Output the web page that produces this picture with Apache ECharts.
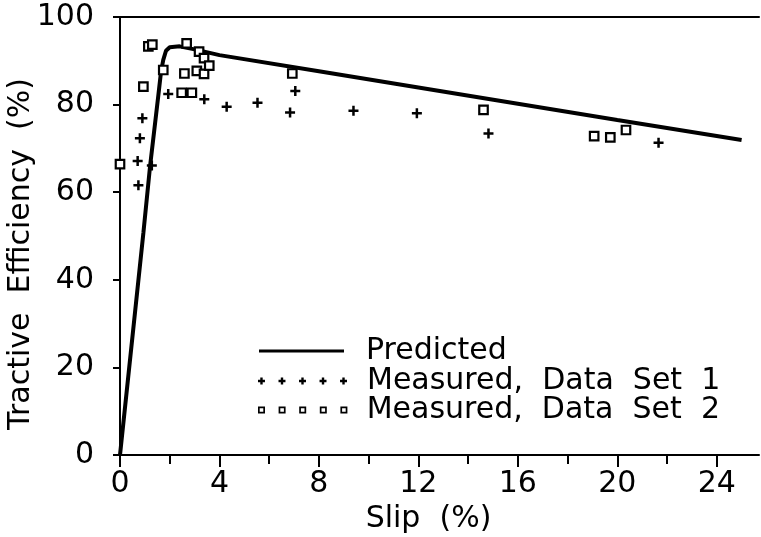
<!DOCTYPE html>
<html><head><meta charset="utf-8">
<script src="https://cdn.jsdelivr.net/npm/echarts@6/dist/echarts.min.js"></script>
<style>html,body{margin:0;padding:0;background:#fff}#c{width:761px;height:537px}</style>
</head><body><div id="c"></div>
<script>
// ---- data ----
const predictedSlip = [0, 0.94, 1.21, 1.54, 1.65, 1.74, 1.85, 2.0, 2.4, 3.0, 4.0, 8, 12, 16, 20, 25];
const predictedEff  = [0, 50.7, 66.0, 82.0, 87.5, 90.2, 92.3, 93.1, 93.3, 92.6, 91.3, 87.6, 83.9, 80.2, 76.5, 71.9];

const set1Slip = [0.74, 0.71, 0.80, 0.90, 1.28, 1.94, 3.39, 4.29, 5.53, 6.84, 7.05, 9.39, 11.94, 14.82, 21.66];
const set1Eff  = [61.6, 67.1, 72.3, 76.9, 66.1, 82.4, 81.2, 79.5, 80.4, 78.2, 83.1, 78.6, 78.0, 73.4, 71.3];

const set2Slip = [0, 0.94, 1.14, 1.30, 1.74, 2.48, 2.59, 2.68, 2.89, 3.09, 3.18, 3.38, 3.38, 3.59, 6.93, 14.62, 19.07, 19.72, 20.35];
const set2Eff  = [66.4, 84.1, 93.3, 93.7, 87.9, 82.7, 87.1, 94.0, 82.7, 87.7, 92.1, 87.0, 90.6, 88.9, 87.1, 78.8, 72.8, 72.5, 74.2];

const xTickLabels = [0, 4, 8, 12, 16, 20, 24];
const xMinorTicks = [2, 6, 10, 14, 18, 22];
const yTickLabels = [0, 20, 40, 60, 80, 100];

const seriesNames = ['Predicted', 'Measured,  Data  Set  1', 'Measured,  Data  Set  2'];

// ---- helpers ----
const zip = (a, b) => a.map((v, i) => [v, b[i]]);
const FONT = 'DejaVu Sans';
const X_MAX = 25.7;

function plusRowPath() {
  let p = 'path://';
  for (let i = 0; i < 5; i++) {
    const c = 3.5 + i * 20.6;
    p += `M${c-1.2},0H${c+1.2}V2.3H${c+3.5}V4.7H${c+1.2}V7H${c-1.2}V4.7H${c-3.5}V2.3H${c-1.2}Z`;
  }
  return p;
}
function squareRowPath() {
  let p = 'path://';
  for (let i = 0; i < 5; i++) {
    const c = 3.5 + i * 20.6;
    p += `M${c-3.5},0H${c+3.5}V7H${c-3.5}Z`;
    p += `M${c-1.8},1.8V5.2H${c+1.8}V1.8Z`;
  }
  return p;
}

const chart = echarts.init(document.getElementById('c'), null, {renderer: 'canvas'});
const gridPos = {left: 120, right: 2, top: 17, bottom: 82, containLabel: false, outerBoundsMode: 'none'};

const option = {
  backgroundColor: '#fff',
  animation: false,
  grid: [Object.assign({}, gridPos), Object.assign({}, gridPos)],
  xAxis: [
    {
      type: 'value', gridIndex: 0, position: 'bottom', min: 0, max: X_MAX,
      axisLine: {show: true, onZero: false, lineStyle: {color: '#000', width: 2}},
      axisTick: {show: true, length: 12, lineStyle: {color: '#000', width: 2}, customValues: xTickLabels},
      axisLabel: {show: true, color: '#000', fontFamily: FONT, fontSize: 30, margin: 14, customValues: xTickLabels},
      splitLine: {show: false},
      name: 'Slip  (%)', nameLocation: 'middle', nameGap: 40,
      nameTextStyle: {color: '#000', fontFamily: FONT, fontSize: 30, padding: [0, 22, 0, 0]}
    },
    {
      type: 'value', gridIndex: 0, position: 'top', min: 0, max: X_MAX,
      axisLine: {show: true, onZero: false, lineStyle: {color: '#000', width: 2}},
      axisTick: {show: false}, axisLabel: {show: false}, splitLine: {show: false}
    },
    {
      type: 'value', gridIndex: 1, position: 'bottom', min: 0, max: X_MAX,
      axisLine: {show: false, onZero: false},
      axisTick: {show: true, length: 9, lineStyle: {color: '#000', width: 2}, customValues: xMinorTicks},
      axisLabel: {show: false}, splitLine: {show: false}
    }
  ],
  yAxis: [
    {
      type: 'value', gridIndex: 0, min: 0, max: 100, interval: 20,
      axisLine: {show: true, onZero: false, lineStyle: {color: '#000', width: 2}},
      axisTick: {show: true, length: 7, lineStyle: {color: '#000', width: 2}},
      axisLabel: {show: true, color: '#000', fontFamily: FONT, fontSize: 30, margin: 26},
      splitLine: {show: false},
      name: 'Tractive  Efficiency  (%)', nameLocation: 'middle', nameGap: 84, nameMoveOverlap: false,
      nameTextStyle: {color: '#000', fontFamily: FONT, fontSize: 30, padding: [0, 36, 0, 0]}
    },
    {type: 'value', gridIndex: 1, min: 0, max: 100, show: false}
  ],
  legend: [
    {
      data: [{name: seriesNames[0], icon: 'rect'}],
      left: 259, top: 336, padding: 0, itemWidth: 85, itemHeight: 3,
      textStyle: {color: '#000', fontFamily: FONT, fontSize: 30, padding: [0, 0, 18, 17]}
    },
    {
      data: [{name: seriesNames[1], icon: plusRowPath(), itemStyle: {color: '#000', borderWidth: 0}}],
      left: 258, top: 366, padding: 0, itemWidth: 89, itemHeight: 7,
      textStyle: {color: '#000', fontFamily: FONT, fontSize: 30, padding: [0, 0, 8, 15]}
    },
    {
      data: [{name: seriesNames[2], icon: squareRowPath(), itemStyle: {color: '#000', borderWidth: 0}}],
      left: 258, top: 395, padding: 0, itemWidth: 90, itemHeight: 7,
      textStyle: {color: '#000', fontFamily: FONT, fontSize: 30, padding: [0, 0, 6, 14]}
    }
  ],
  series: [
    {
      name: seriesNames[0], type: 'line', xAxisIndex: 0, yAxisIndex: 0,
      data: zip(predictedSlip, predictedEff), showSymbol: false, symbol: 'none',
      lineStyle: {color: '#000', width: 4}, itemStyle: {color: '#000'}, z: 2
    },
    {
      name: seriesNames[1], type: 'scatter', xAxisIndex: 0, yAxisIndex: 0,
      data: zip(set1Slip, set1Eff),
      symbol: 'path://M3,0H5V3H8V5H5V8H3V5H0V3H3Z', symbolSize: 10,
      itemStyle: {color: '#000', opacity: 1}, z: 3
    },
    {
      name: seriesNames[2], type: 'scatter', xAxisIndex: 0, yAxisIndex: 0,
      data: zip(set2Slip, set2Eff),
      symbol: 'rect', symbolSize: 8.5,
      itemStyle: {color: '#fff', borderColor: '#000', borderWidth: 2.2, opacity: 1}, z: 4
    }
  ]
};
chart.setOption(option);
</script>
</body></html>
